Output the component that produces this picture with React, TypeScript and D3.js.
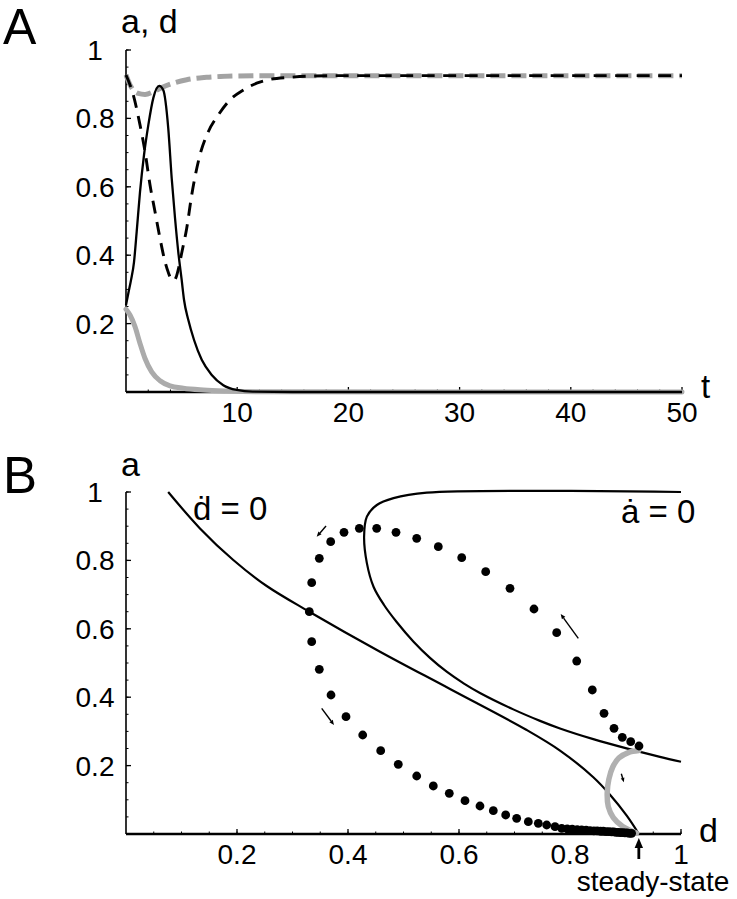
import React from "react";
import * as d3 from "d3";

const W = 737;
const H = 899;
const FONT = "'Liberation Sans', Arial, Helvetica, sans-serif";

// ---------- Panel A data: (t, value) ----------
const tMajorTicks = [10, 20, 30, 40, 50];
const vMajorTicks = [0.2, 0.4, 0.6, 0.8, 1];

const aBlack: [number, number][] = [
  [0, 0.254], [0.21, 0.289], [0.45, 0.327], [0.72, 0.38], [0.96, 0.468], [1.26, 0.585],
  [1.62, 0.693], [2.01, 0.781], [2.46, 0.86], [2.99, 0.895], [3.35, 0.883], [3.8, 0.771],
  [4.11, 0.625], [4.41, 0.508], [4.7, 0.41], [5.01, 0.327], [5.22, 0.269], [5.6, 0.211],
  [6.12, 0.152], [6.81, 0.094], [7.71, 0.05], [8.75, 0.02], [9.96, 0.006], [11.4, 0.001],
  [15, 0], [50, 0],
];

const dBlack: [number, number][] = [
  [0, 0.927], [0.66, 0.868], [1.26, 0.781], [1.71, 0.703], [2.16, 0.605], [2.61, 0.527],
  [3.06, 0.449], [3.51, 0.381], [3.8, 0.35], [4.1, 0.329], [4.3, 0.326], [4.5, 0.335],
  [4.75, 0.365], [5.0, 0.405], [5.46, 0.479], [5.91, 0.576], [6.65, 0.693], [7.4, 0.761],
  [8.3, 0.81], [9.35, 0.854], [10.55, 0.883], [11.75, 0.903], [12.65, 0.912], [14.75, 0.92],
  [16.8, 0.924], [19.5, 0.925], [50, 0.925],
];

const aGray: [number, number][] = [
  [0, 0.242], [0.36, 0.225], [0.81, 0.191], [1.26, 0.142], [1.71, 0.098], [2.31, 0.059],
  [3.06, 0.033], [3.96, 0.018], [5.15, 0.011], [6.95, 0.006], [9.05, 0.003], [12, 0.001],
  [50, 0],
];

const dGray: [number, number][] = [
  [0, 0.927], [0.36, 0.898], [1.1, 0.873], [1.71, 0.87], [2.46, 0.878], [3.21, 0.89],
  [4.25, 0.903], [5.46, 0.913], [7.26, 0.92], [9.96, 0.924], [12.35, 0.925], [50, 0.925],
];

// ---------- Panel B data: (d, a) ----------
const dMajorTicks = [0.2, 0.4, 0.6, 0.8, 1];
const aMajorTicks = [0.2, 0.4, 0.6, 0.8, 1];

const dNullcline: [number, number][] = [
  [0.076, 1.0], [0.1333, 0.8936], [0.1933, 0.8012], [0.2535, 0.7251], [0.3303, 0.65],
  [0.4577, 0.533], [0.5838, 0.424], [0.722, 0.304], [0.782, 0.2439], [0.842, 0.1661],
  [0.8721, 0.1149], [0.9022, 0.0538], [0.923, 0.003],
];

const aNullcline: [number, number][] = [
  [1.0, 1.0], [0.542, 0.998], [0.482, 0.982], [0.452, 0.962], [0.434, 0.928], [0.429, 0.869],
  [0.434, 0.792], [0.446, 0.723], [0.4649, 0.6696], [0.4877, 0.6199], [0.5177, 0.563],
  [0.5477, 0.515], [0.5778, 0.4745], [0.609, 0.4398], [0.6378, 0.4124], [0.6978, 0.3644],
  [0.746, 0.3308], [0.782, 0.3085], [0.842, 0.2773], [0.902, 0.2503], [0.962, 0.2257],
  [1.0, 0.2113],
];

const grayTrajectory: [number, number][] = [
  [0.924, 0.244], [0.905, 0.238], [0.888, 0.222], [0.877, 0.196], [0.87, 0.16],
  [0.867, 0.12], [0.869, 0.08], [0.878, 0.048], [0.895, 0.022], [0.92, 0.003],
];

const blackDots: [number, number][] = [
  [0.9243, 0.2573], [0.9094, 0.2699], [0.8942, 0.2827], [0.8793, 0.3091], [0.8613, 0.3529],
  [0.8402, 0.4211], [0.8121, 0.5058], [0.776, 0.5886], [0.7351, 0.6579], [0.6919, 0.7184],
  [0.6481, 0.767], [0.6049, 0.8079], [0.5627, 0.8401], [0.5238, 0.8646], [0.4865, 0.8822],
  [0.4517, 0.8939], [0.4204, 0.8939], [0.3928, 0.8822], [0.3688, 0.8547], [0.3483, 0.8061],
  [0.3346, 0.7348], [0.3303, 0.65], [0.3346, 0.5623], [0.3483, 0.4816], [0.3694, 0.4064],
  [0.3964, 0.343], [0.4265, 0.2895], [0.4589, 0.2436], [0.4906, 0.2038], [0.5238, 0.1696],
  [0.5537, 0.1404], [0.5825, 0.119], [0.6108, 0.0974], [0.6378, 0.0819], [0.6618, 0.0681],
  [0.6841, 0.0556], [0.7039, 0.0459], [0.7249, 0.036], [0.7429, 0.0313], [0.758, 0.0263],
  [0.773, 0.0213], [0.785, 0.0167], [0.795, 0.015], [0.804, 0.014], [0.813, 0.013],
  [0.821, 0.012], [0.829, 0.011], [0.836, 0.01], [0.843, 0.009], [0.849, 0.009],
  [0.855, 0.008], [0.86, 0.008], [0.865, 0.007], [0.87, 0.007], [0.875, 0.006],
  [0.879, 0.006], [0.883, 0.005], [0.887, 0.005], [0.891, 0.004], [0.895, 0.004],
  [0.899, 0.003], [0.903, 0.003], [0.907, 0.002], [0.911, 0.002],
];

// direction arrows (from, to) in data coordinates of panel B
const blackArrows: [[number, number], [number, number]][] = [
  [[0.3604, 0.9006], [0.3436, 0.8693]],
  [[0.3526, 0.3675], [0.3748, 0.3187]],
  [[0.815, 0.5722], [0.7832, 0.6433]],
];
const grayArrows: [[number, number], [number, number]][] = [
  [[0.8925, 0.176], [0.897, 0.151]],
];
const steadyStateD = 0.924;

// ---------- scales ----------
const xA = d3.scaleLinear().domain([0, 50]).range([126, 682]);
const yA = d3.scaleLinear().domain([0, 1]).range([392, 50]);
const xB = d3.scaleLinear().domain([0, 1]).range([126, 681]);
const yB = d3.scaleLinear().domain([0, 1]).range([834, 492]);

function Arrow({ x1, y1, x2, y2, head = 5, w = 1.3, color = "#000" }: any) {
  const ang = Math.atan2(y2 - y1, x2 - x1);
  const hx = x2 - head * Math.cos(ang);
  const hy = y2 - head * Math.sin(ang);
  const px = -Math.sin(ang) * head * 0.42;
  const py = Math.cos(ang) * head * 0.42;
  return (
    <g>
      <line x1={x1} y1={y1} x2={hx} y2={hy} stroke={color} strokeWidth={w} />
      <path d={`M${x2},${y2}L${hx + px},${hy + py}L${hx - px},${hy - py}Z`} fill={color} />
    </g>
  );
}

function Axes({ x, y, xMajor, xMinor, yMajor, yMinor, xFmt, yFmt }: any) {
  const [x0, x1] = x.range();
  const [y0, y1] = y.range();
  return (
    <g fontFamily={FONT} fontSize={28} fill="#000">
      <line x1={x0} y1={y0} x2={x0} y2={y1} stroke="#000" strokeWidth={1.6} />
      <line x1={x0} y1={y0} x2={x1} y2={y0} stroke="#000" strokeWidth={2.4} />
      {yMinor.map((v: number) => (
        <line key={"ym" + v} x1={x0} x2={x0 + 2.5} y1={y(v)} y2={y(v)} stroke="#000" strokeWidth={1} />
      ))}
      {yMajor.map((v: number) => (
        <g key={"yM" + v}>
          <line x1={x0} x2={x0 + 5} y1={y(v)} y2={y(v)} stroke="#000" strokeWidth={1.3} />
          <text x={95} y={y(v)} dy="0.36em" textAnchor="middle">{yFmt(v)}</text>
        </g>
      ))}
      {xMinor.map((v: number) => (
        <line key={"xm" + v} x1={x(v)} x2={x(v)} y1={y0} y2={y0 - 2.5} stroke="#000" strokeWidth={1} />
      ))}
      {xMajor.map((v: number) => (
        <g key={"xM" + v}>
          <line x1={x(v)} x2={x(v)} y1={y0} y2={y0 - 5} stroke="#000" strokeWidth={1.3} />
          <text x={x(v)} y={y0 + 30} textAnchor="middle">{xFmt(v)}</text>
        </g>
      ))}
    </g>
  );
}

const fmtNum = (v: number) => (v === 1 ? "1" : String(+v.toFixed(1)));

export default function App() {
  const lineA = d3
    .line<[number, number]>()
    .x((p) => xA(p[0]))
    .y((p) => yA(p[1]))
    .curve(d3.curveMonotoneX);
  const lineB = d3
    .line<[number, number]>()
    .x((p) => xB(p[0]))
    .y((p) => yB(p[1]))
    .curve(d3.curveCatmullRom.alpha(0.5));

  const ssx = xB(steadyStateD);

  return (
    <svg
      width={W}
      height={H}
      viewBox={`0 0 ${W} ${H}`}
      style={{ position: "absolute", left: 0, top: 0, background: "#fff" }}
    >
      <rect width={W} height={H} fill="#fff" />

      {/* ---------------- Panel A ---------------- */}
      <text x={3} y={44} fontFamily={FONT} fontSize={50}>A</text>
      <text x={121} y={33} fontFamily={FONT} fontSize={34}>a, d</text>
      <text x={701} y={398} fontFamily={FONT} fontSize={33}>t</text>

      <Axes
        x={xA}
        y={yA}
        xMajor={tMajorTicks}
        xMinor={xA.ticks(25).filter((v) => v > 0 && v % 10 !== 0)}
        yMajor={vMajorTicks}
        yMinor={yA.ticks(20).filter((v) => v > 0)}
        xFmt={(v: number) => String(v)}
        yFmt={fmtNum}
      />

      <path d={lineA(aGray) || ""} fill="none" stroke="#ababab" strokeWidth={5} strokeLinecap="round" />
      <path d={lineA(dGray) || ""} fill="none" stroke="#a3a3a3" strokeWidth={5} strokeDasharray="15 6" />
      <path d={lineA(aBlack) || ""} fill="none" stroke="#000" strokeWidth={2.3} />
      <path d={lineA(dBlack) || ""} fill="none" stroke="#000" strokeWidth={2.9} strokeDasharray="13 8.5" />

      {/* ---------------- Panel B ---------------- */}
      <text x={3} y={493} fontFamily={FONT} fontSize={51}>B</text>
      <text x={121} y={476} fontFamily={FONT} fontSize={34}>a</text>
      <text x={699} y={842} fontFamily={FONT} fontSize={34}>d</text>

      <Axes
        x={xB}
        y={yB}
        xMajor={dMajorTicks}
        xMinor={xB.ticks(20).filter((v) => v > 0)}
        yMajor={aMajorTicks}
        yMinor={yB.ticks(20).filter((v) => v > 0)}
        xFmt={fmtNum}
        yFmt={fmtNum}
      />

      <path d={lineB(dNullcline) || ""} fill="none" stroke="#000" strokeWidth={2.2} />
      <path d={lineB(aNullcline) || ""} fill="none" stroke="#000" strokeWidth={2.2} />
      <path d={lineB(grayTrajectory) || ""} fill="none" stroke="#b0b0b0" strokeWidth={5.5} strokeLinecap="round" />

      {blackDots.map((p, i) => (
        <circle key={i} cx={xB(p[0])} cy={yB(p[1])} r={4.4} fill="#000" />
      ))}

      {blackArrows.map((a, i) => (
        <Arrow key={"ba" + i} x1={xB(a[0][0])} y1={yB(a[0][1])} x2={xB(a[1][0])} y2={yB(a[1][1])} head={5} w={1.4} />
      ))}
      {grayArrows.map((a, i) => (
        <Arrow key={"ga" + i} x1={xB(a[0][0])} y1={yB(a[0][1])} x2={xB(a[1][0])} y2={yB(a[1][1])} head={4.5} w={1.4} />
      ))}

      <text x={193} y={520} fontFamily={FONT} fontSize={33}>ḋ = 0</text>
      <text x={621} y={523} fontFamily={FONT} fontSize={33}>ȧ = 0</text>

      <Arrow x1={ssx} y1={yB(0) + 25} x2={ssx} y2={yB(0) + 4} head={10} w={2.8} />
      <text x={653} y={891} textAnchor="middle" fontFamily={FONT} fontSize={28}>steady-state</text>
    </svg>
  );
}
